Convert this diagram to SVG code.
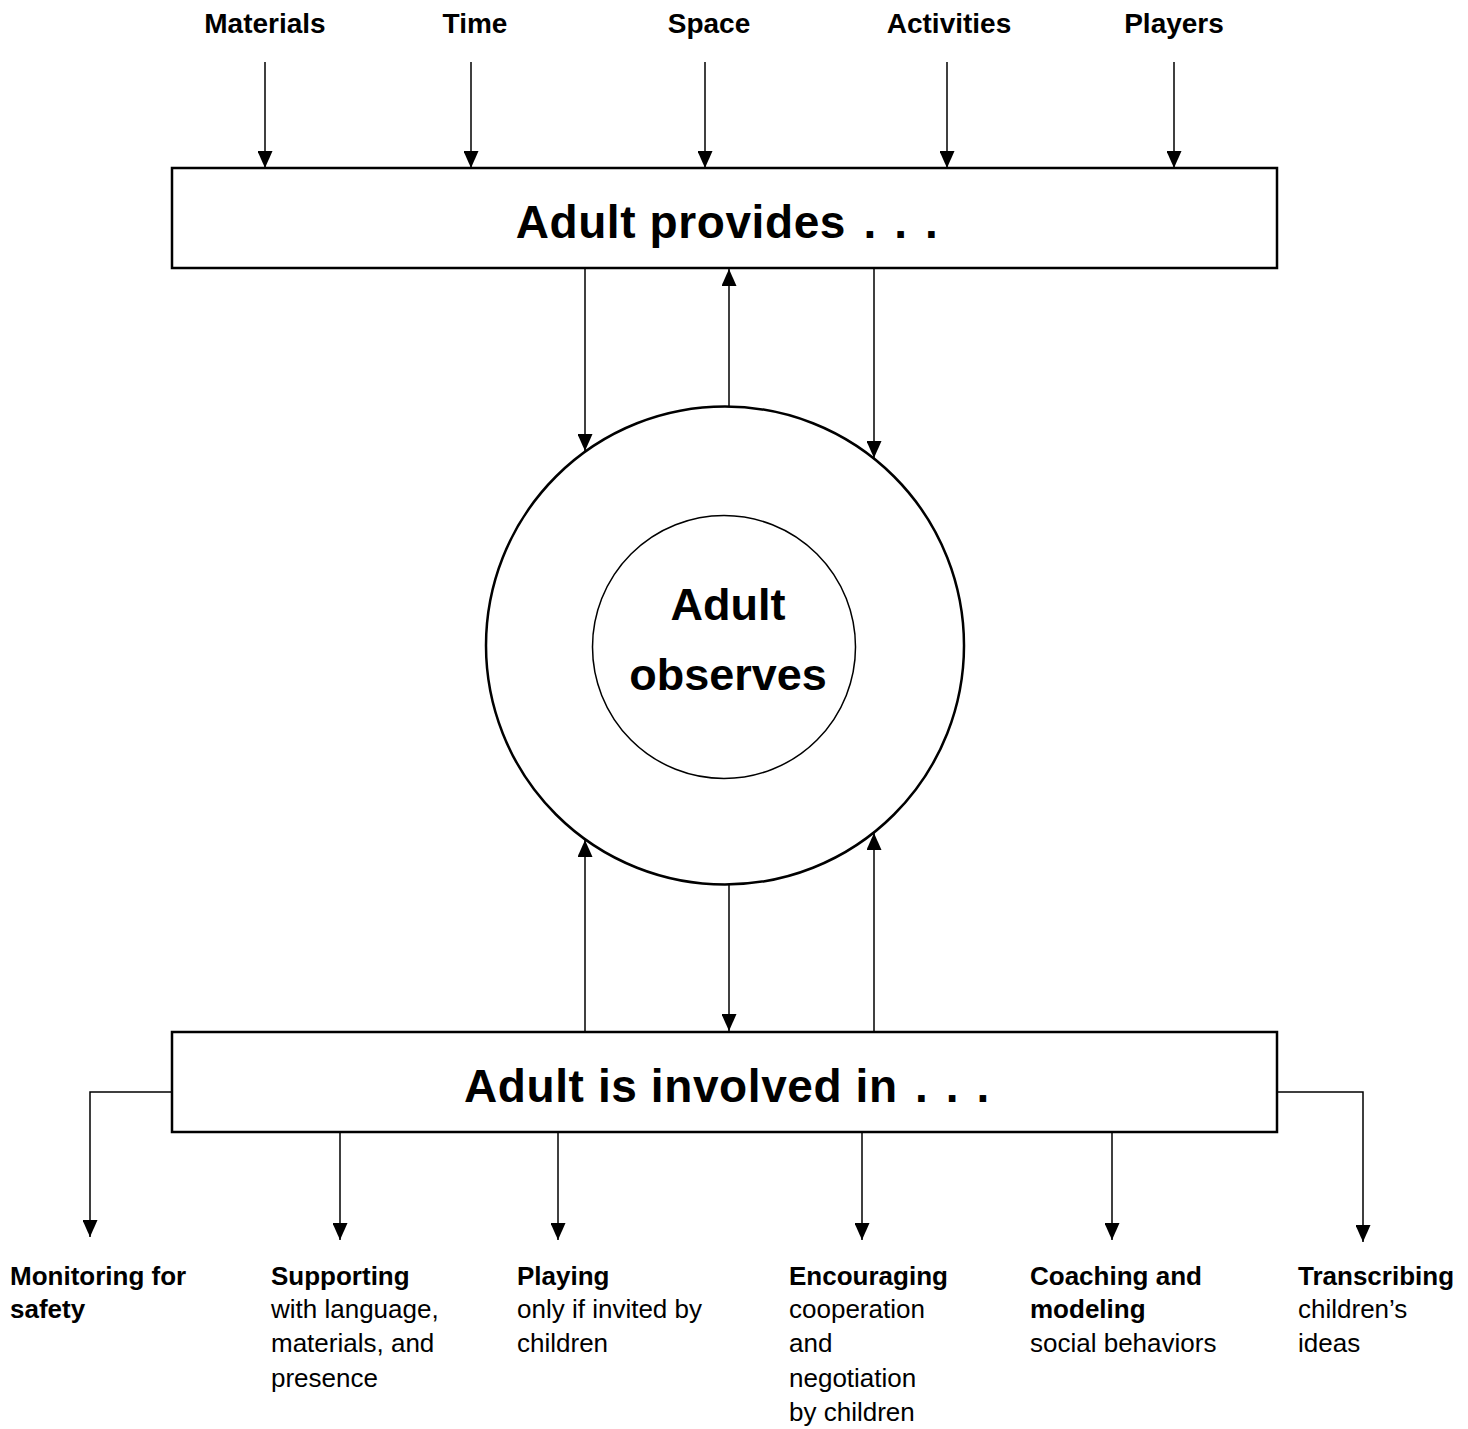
<svg xmlns="http://www.w3.org/2000/svg" width="1468" height="1429" viewBox="0 0 1468 1429">
<style>
.lbl{font-family:"Liberation Sans",Arial,sans-serif;font-weight:bold;font-size:28px;fill:#000;text-anchor:middle}
.big{font-family:"Liberation Sans",Arial,sans-serif;font-weight:bold;font-size:45px;fill:#000;text-anchor:middle}
.wide{font-size:46px;letter-spacing:0.6px}
.dots{word-spacing:4px}
.b{font-family:"Liberation Sans",Arial,sans-serif;font-weight:bold;font-size:26px;fill:#000}
.n{font-family:"Liberation Sans",Arial,sans-serif;font-size:26px;fill:#000}
.box{fill:#fff;stroke:#000;stroke-width:2.5}
.ln{fill:none;stroke:#000;stroke-width:1.5}
</style>
<defs>
<marker id="ah" viewBox="0 0 10 10" refX="10" refY="5" markerWidth="17" markerHeight="15" markerUnits="userSpaceOnUse" orient="auto" preserveAspectRatio="none">
<path d="M0,0 L10,5 L0,10 Z" fill="#000"/>
</marker>
</defs>
<rect width="1468" height="1429" fill="#fff"/>
<g id="inputs">
<text class="lbl" x="265" y="33">Materials</text>
<text class="lbl" x="475" y="33">Time</text>
<text class="lbl" x="709" y="33">Space</text>
<text class="lbl" x="949" y="33">Activities</text>
<text class="lbl" x="1174" y="33">Players</text>
</g>
<g id="provides">
<rect class="box" x="172" y="168" width="1105" height="100"/>
<text class="big wide" x="727" y="238">Adult provides<tspan class="dots"> . . .</tspan></text>
</g>
<g id="observes">
<circle cx="725" cy="645.5" r="239" fill="#fff" stroke="#000" stroke-width="2.5"/>
<circle cx="724" cy="647" r="131.5" fill="#fff" stroke="#000" stroke-width="1.5"/>
<text class="big" x="728" y="620">Adult</text>
<text class="big" x="728" y="690">observes</text>
</g>
<g id="involved">
<rect class="box" x="172" y="1032" width="1105" height="100"/>
<text class="big wide" x="727" y="1102">Adult is involved in<tspan class="dots"> . . .</tspan></text>
</g>
<g id="outcomes">
<text class="b" x="10" y="1285">Monitoring for</text>
<text class="b" x="10" y="1318">safety</text>
<text class="b" x="271" y="1285">Supporting</text>
<text class="n" x="271" y="1318">with language,</text>
<text class="n" x="271" y="1352">materials, and</text>
<text class="n" x="271" y="1387">presence</text>
<text class="b" x="517" y="1285">Playing</text>
<text class="n" x="517" y="1318">only if invited by</text>
<text class="n" x="517" y="1352">children</text>
<text class="b" x="789" y="1285">Encouraging</text>
<text class="n" x="789" y="1318">cooperation</text>
<text class="n" x="789" y="1352">and</text>
<text class="n" x="789" y="1387">negotiation</text>
<text class="n" x="789" y="1421">by children</text>
<text class="b" x="1030" y="1285">Coaching and</text>
<text class="b" x="1030" y="1318">modeling</text>
<text class="n" x="1030" y="1352">social behaviors</text>
<text class="b" x="1298" y="1285">Transcribing</text>
<text class="n" x="1298" y="1318">children’s</text>
<text class="n" x="1298" y="1352">ideas</text>
</g>
<g id="connectors">
<line class="ln" x1="265" y1="62" x2="265" y2="168" marker-end="url(#ah)"/>
<line class="ln" x1="471" y1="62" x2="471" y2="168" marker-end="url(#ah)"/>
<line class="ln" x1="705" y1="62" x2="705" y2="168" marker-end="url(#ah)"/>
<line class="ln" x1="947" y1="62" x2="947" y2="168" marker-end="url(#ah)"/>
<line class="ln" x1="1174" y1="62" x2="1174" y2="168" marker-end="url(#ah)"/>
<line class="ln" x1="585" y1="269" x2="585" y2="451" marker-end="url(#ah)"/>
<line class="ln" x1="874" y1="269" x2="874" y2="458" marker-end="url(#ah)"/>
<line class="ln" x1="729" y1="407" x2="729" y2="269" marker-end="url(#ah)"/>
<line class="ln" x1="585" y1="1031" x2="585" y2="840" marker-end="url(#ah)"/>
<line class="ln" x1="874" y1="1031" x2="874" y2="833" marker-end="url(#ah)"/>
<line class="ln" x1="729" y1="884" x2="729" y2="1031" marker-end="url(#ah)"/>
<polyline class="ln" points="172,1092 90,1092 90,1237" marker-end="url(#ah)"/>
<polyline class="ln" points="1277,1092 1363,1092 1363,1242" marker-end="url(#ah)"/>
<line class="ln" x1="340" y1="1133" x2="340" y2="1240" marker-end="url(#ah)"/>
<line class="ln" x1="558" y1="1133" x2="558" y2="1240" marker-end="url(#ah)"/>
<line class="ln" x1="862" y1="1133" x2="862" y2="1240" marker-end="url(#ah)"/>
<line class="ln" x1="1112" y1="1133" x2="1112" y2="1240" marker-end="url(#ah)"/>
</g>
</svg>
